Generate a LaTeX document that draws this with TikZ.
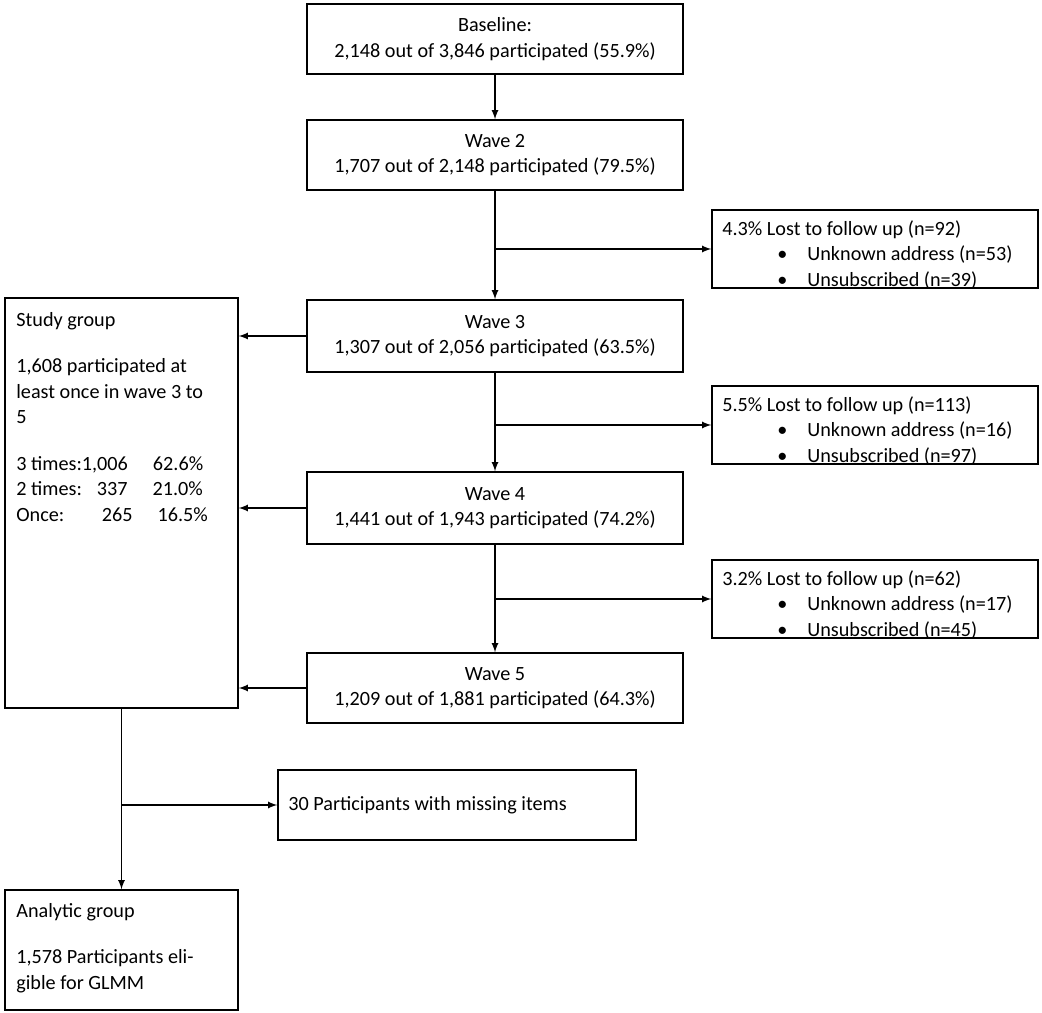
\documentclass[tikz,border=0pt]{standalone}
\usepackage{fontspec}
\setmainfont{Carlito}
\begin{document}
\begin{tikzpicture}[x=0.02cm,y=-0.02cm,font=\fontsize{11.5}{14.5}\selectfont]
	\tikzset{box/.style={draw=black, thick, inner sep=0pt, align=center},
		txt/.style={anchor=north west, align=left, inner sep=0pt},
		arr/.style={thick, -{latex}}};
	\useasboundingbox (0,0) rectangle (1042,1013);

	\node[box,minimum width=376*0.02cm,minimum height=70*0.02cm] (base) at (495,39) {Baseline:\\2,148 out of 3,846 participated (55.9\%)};
	\node[box,minimum width=376*0.02cm,minimum height=70*0.02cm] (w2) at (495,155) {Wave 2\\1,707 out of 2,148 participated (79.5\%)};
	\node[box,minimum width=376*0.02cm,minimum height=72*0.02cm] (w3) at (495,336) {Wave 3\\1,307 out of 2,056 participated (63.5\%)};
	\node[box,minimum width=376*0.02cm,minimum height=72*0.02cm] (w4) at (495,508) {Wave 4\\1,441 out of 1,943 participated (74.2\%)};
	\node[box,minimum width=376*0.02cm,minimum height=70*0.02cm] (w5) at (495,688) {Wave 5\\1,209 out of 1,881 participated (64.3\%)};

	\node[box,minimum width=326*0.02cm,minimum height=78*0.02cm] (l1) at (875,249) {};
	\node[box,minimum width=326*0.02cm,minimum height=78*0.02cm] (l2) at (875,425) {};
	\node[box,minimum width=326*0.02cm,minimum height=78*0.02cm] (l3) at (875,599) {};
	\node[txt] (t1) at (722,220) {4.3\% Lost to follow up (n=92)\\\hspace*{1.1cm}\textbullet\hspace*{0.4cm}Unknown address (n=53)\\\hspace*{1.1cm}\textbullet\hspace*{0.4cm}Unsubscribed (n=39)};
	\node[txt] (t2) at (722,396) {5.5\% Lost to follow up (n=113)\\\hspace*{1.1cm}\textbullet\hspace*{0.4cm}Unknown address (n=16)\\\hspace*{1.1cm}\textbullet\hspace*{0.4cm}Unsubscribed (n=97)};
	\node[txt] (t3) at (722,570) {3.2\% Lost to follow up (n=62)\\\hspace*{1.1cm}\textbullet\hspace*{0.4cm}Unknown address (n=17)\\\hspace*{1.1cm}\textbullet\hspace*{0.4cm}Unsubscribed (n=45)};

	\node[box,minimum width=233*0.02cm,minimum height=410*0.02cm] (study) at (121.5,503) {};
	\node[txt] (ts) at (16,312) {Study group\\[12pt]1,608 participated at\\least once in wave 3 to\\5\\[12pt]3 times:1,006\hspace{0.5cm}62.6\%\\2 times:\hspace{0.3cm}337\hspace{0.5cm}21.0\%\\Once:\hspace{0.75cm}265\hspace{0.5cm}16.5\%};

	\node[box,minimum width=358*0.02cm,minimum height=70*0.02cm] (miss) at (457,805) {};
	\node[txt] (tm) at (288,796) {30 Participants with missing items};
	\node[box,minimum width=233*0.02cm,minimum height=120*0.02cm] (ana) at (121.5,950) {};
	\node[txt] (ta) at (16,903) {Analytic group\\[12pt]1,578 Participants eli-\\gible for GLMM};

	\coordinate (b1) at (w2.south |- l1.west);
	\coordinate (b2) at (w3.south |- l2.west);
	\coordinate (b3) at (w4.south |- l3.west);
	\coordinate (b4) at (study.south |- miss.west);

	\draw[arr] (base) -- (w2);
	\draw[arr] (w2) -- (w3);
	\draw[arr] (w3) -- (w4);
	\draw[arr] (w4) -- (w5);
	\draw[arr] (b1) -- (l1);
	\draw[arr] (b2) -- (l2);
	\draw[arr] (b3) -- (l3);
	\draw[arr] (w3.west) -- (w3.west -| study.east);
	\draw[arr] (w4.west) -- (w4.west -| study.east);
	\draw[arr] (w5.west) -- (w5.west -| study.east);
	\draw[arr] (study) -- (ana);
	\draw[arr] (b4) -- (miss);
\end{tikzpicture}
\end{document}
